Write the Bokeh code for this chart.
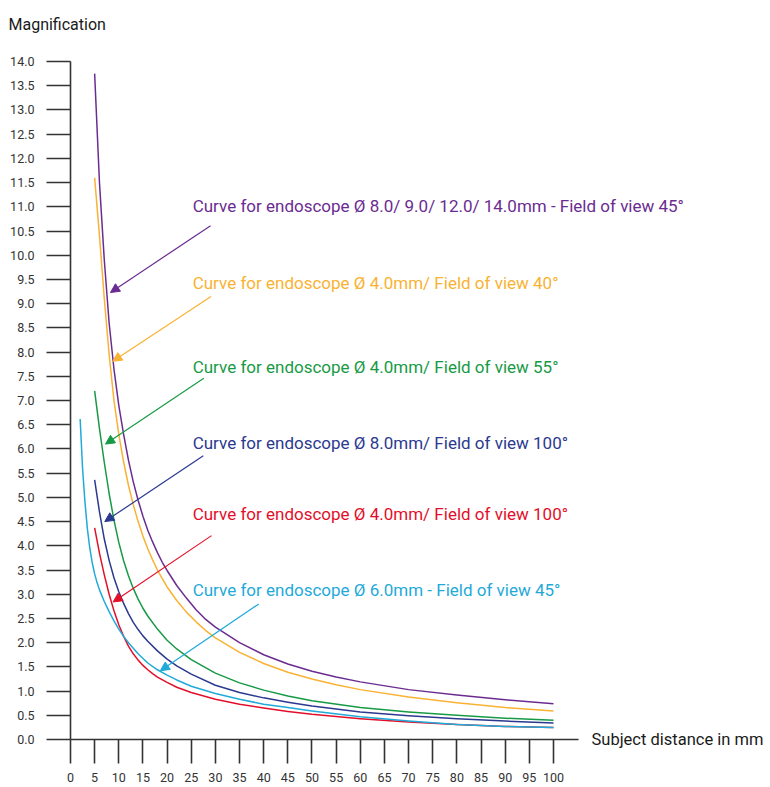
from bokeh.plotting import figure
from bokeh.models import Range1d, FixedTicker, Arrow, NormalHead, ColumnDataSource
from bokeh.core.properties import value
from bokeh.embed import file_html
from bokeh.resources import INLINE

# ---------------- data ----------------
x_ticks = [0, 5, 10, 15, 20, 25, 30, 35, 40, 45, 50, 55, 60, 65, 70, 75, 80, 85, 90, 95, 100]
y_ticks = [0.0, 0.5, 1.0, 1.5, 2.0, 2.5, 3.0, 3.5, 4.0, 4.5, 5.0, 5.5, 6.0, 6.5, 7.0,
           7.5, 8.0, 8.5, 9.0, 9.5, 10.0, 10.5, 11.0, 11.5, 12.0, 12.5, 13.0, 13.5, 14.0]
y_tick_labels = ["0.0", "0.5", "1.0", "1.5", "2.0", "2.5", "3.0", "3.5", "4.0", "4.5", "5.0",
                 "5.5", "6.0", "6.5", "7.0", "7.5", "8.0", "8.5", "9.0", "9.5", "10.0", "10.5",
                 "11.0", "11.5", "12.0", "12.5", "13.0", "13.5", "14.0"]

purple_d = [5, 6, 7, 8, 9, 10, 11, 12, 13, 14, 15, 16, 17, 18, 19, 20, 22, 24, 26, 28, 30,
            35, 40, 45, 50, 55, 60, 70, 80, 90, 100]
purple_m = [13.75, 11.5, 9.9, 8.6, 7.65, 6.9, 6.3, 5.77, 5.32, 4.94, 4.61, 4.32, 4.08, 3.86, 3.66, 3.49,
            3.18, 2.92, 2.68, 2.48, 2.32, 2.0, 1.75, 1.56, 1.41, 1.29, 1.19, 1.03, 0.92, 0.82, 0.74]

orange_d = [5, 6, 7, 8, 9, 10, 11, 12, 13, 14, 15, 16, 17, 18, 19, 20, 22, 24, 26, 28, 30,
            35, 40, 45, 50, 55, 60, 70, 80, 90, 100]
orange_m = [11.6, 10.4, 9.1, 7.95, 7.0, 6.3, 5.73, 5.25, 4.85, 4.5, 4.2, 3.94, 3.71, 3.5, 3.32, 3.15,
            2.87, 2.63, 2.43, 2.25, 2.1, 1.8, 1.57, 1.39, 1.25, 1.13, 1.03, 0.88, 0.76, 0.66, 0.59]

green_d = [5, 6, 7, 8, 9, 10, 11, 12, 13, 14, 15, 16, 18, 20, 22, 25, 30, 35, 40, 45, 50, 60, 70, 80, 90, 100]
green_m = [7.2, 6.42, 5.72, 5.08, 4.53, 4.07, 3.69, 3.38, 3.12, 2.9, 2.71, 2.55, 2.28, 2.05, 1.87, 1.65,
           1.37, 1.17, 1.02, 0.9, 0.8, 0.66, 0.57, 0.5, 0.44, 0.4]

navy_d = [5, 6, 7, 8, 9, 10, 11, 12, 13, 14, 15, 16, 18, 20, 22, 25, 30, 35, 40, 45, 50, 60, 70, 80, 90, 100]
navy_m = [5.36, 4.7, 4.14, 3.7, 3.34, 3.05, 2.81, 2.6, 2.42, 2.27, 2.14, 2.03, 1.83, 1.66, 1.52, 1.35,
          1.12, 0.97, 0.86, 0.77, 0.69, 0.57, 0.49, 0.43, 0.38, 0.34]

red_d = [5, 6, 7, 8, 9, 10, 11, 12, 13, 14, 15, 16, 17, 18, 20, 22, 25, 30, 35, 40, 45, 50, 60, 70, 80, 90, 100]
red_m = [4.37, 3.85, 3.4, 3.0, 2.66, 2.37, 2.13, 1.93, 1.77, 1.64, 1.53, 1.44, 1.36, 1.29, 1.18, 1.08,
         0.97, 0.83, 0.73, 0.65, 0.58, 0.52, 0.43, 0.36, 0.31, 0.27, 0.25]

cyan_d = [2, 2.5, 3, 3.5, 4, 4.5, 5, 5.5, 6, 7, 8, 9, 10, 11, 12, 14, 16, 18, 20, 22, 25, 30, 35, 40,
          45, 50, 60, 70, 80, 90, 100]
cyan_m = [6.62, 5.6, 4.9, 4.35, 3.95, 3.65, 3.42, 3.24, 3.09, 2.85, 2.64, 2.45, 2.28, 2.13, 2.0, 1.77,
          1.58, 1.44, 1.33, 1.23, 1.1, 0.95, 0.83, 0.73, 0.66, 0.59, 0.47, 0.38, 0.31, 0.27, 0.25]

series_names = [
    "Curve for endoscope Ø 8.0/ 9.0/ 12.0/ 14.0mm - Field of view 45°",
    "Curve for endoscope Ø 4.0mm/ Field of view 40°",
    "Curve for endoscope Ø 4.0mm/ Field of view 55°",
    "Curve for endoscope Ø 8.0mm/ Field of view 100°",
    "Curve for endoscope Ø 4.0mm/ Field of view 100°",
    "Curve for endoscope Ø 6.0mm - Field of view 45°",
]
x_title = "Subject distance in mm"
y_title = "Magnification"

# ---------------- layout / styles ----------------
colors = ["#6b2c91", "#f9b233", "#179a45", "#2b3990", "#e30f2a", "#1faad9"]
curves = [(purple_d, purple_m), (orange_d, orange_m), (green_d, green_m),
          (navy_d, navy_m), (red_d, red_m), (cyan_d, cyan_m)]

# annotation placement (data coordinates)
label_x = [25.3] * 6
label_y = [11.01, 9.42, 7.70, 6.13, 4.65, 3.08]
arrow_start = [(29.0, 10.61), (29.1, 9.15), (27.6, 7.46), (27.5, 5.86), (29.2, 4.21), (39.0, 2.80)]
arrow_end = [(8.28, 9.23), (8.76, 7.81), (7.25, 6.10), (7.1, 4.50), (8.83, 2.84), (18.6, 1.42)]
x_title_pos = (107.87, 0.0)
y_title_pos = (-12.84, 14.76)

FONT = "Roboto"
AX = "#333333"

p = figure(width=770, height=787, output_backend="svg", toolbar_location=None,
           x_range=Range1d(-14.49, 144.93), y_range=Range1d(-0.991, 15.26),
           min_border_left=0, min_border_right=0, min_border_top=0, min_border_bottom=0)
p.outline_line_color = None
p.grid.visible = False
p.background_fill_color = "white"
p.border_fill_color = "white"

for ax, ticks in ((p.xaxis[0], x_ticks), (p.yaxis[0], y_ticks)):
    ax.fixed_location = 0
    ax.ticker = FixedTicker(ticks=ticks)
    ax.major_tick_out = 24
    ax.major_tick_in = 0
    ax.minor_tick_out = 0
    ax.minor_tick_in = 0
    ax.axis_line_color = AX
    ax.axis_line_width = 1.6
    ax.major_tick_line_color = AX
    ax.major_tick_line_width = 1.6
    ax.major_label_text_font = FONT
    ax.major_label_text_font_size = "12.5px"
    ax.major_label_text_color = "#333333"

p.xaxis[0].bounds = (0, 105.2)
p.yaxis[0].bounds = (0, 14)
p.xaxis[0].major_label_standoff = 9
p.yaxis[0].major_label_standoff = 12
p.yaxis[0].major_label_overrides = {t: s for t, s in zip(y_ticks, y_tick_labels)}

for (d, m), c in zip(curves, colors):
    p.line(d, m, line_color=c, line_width=1.5, line_join="round")

for (xs, ys), (xe, ye), c in zip(arrow_start, arrow_end, colors):
    p.add_layout(Arrow(end=NormalHead(size=9, fill_color=c, line_color=c, line_width=1),
                       x_start=xs, y_start=ys, x_end=xe, y_end=ye,
                       line_color=c, line_width=1.2))

src = ColumnDataSource(dict(x=label_x, y=label_y, t=series_names, c=colors))
p.text(x="x", y="y", text="t", text_color="c", source=src, text_font=value(FONT),
       text_font_size="17px", text_baseline="middle", text_align="left")

p.text(x=[x_title_pos[0]], y=[x_title_pos[1]], text=[x_title], text_color="#1a1a1a",
       text_font=value(FONT), text_font_size="16.5px", text_baseline="middle", text_align="left")
p.text(x=[y_title_pos[0]], y=[y_title_pos[1]], text=[y_title], text_color="#1a1a1a",
       text_font=value(FONT), text_font_size="16px", text_baseline="alphabetic", text_align="left")

open("out.html", "w").write(file_html(p, INLINE))
